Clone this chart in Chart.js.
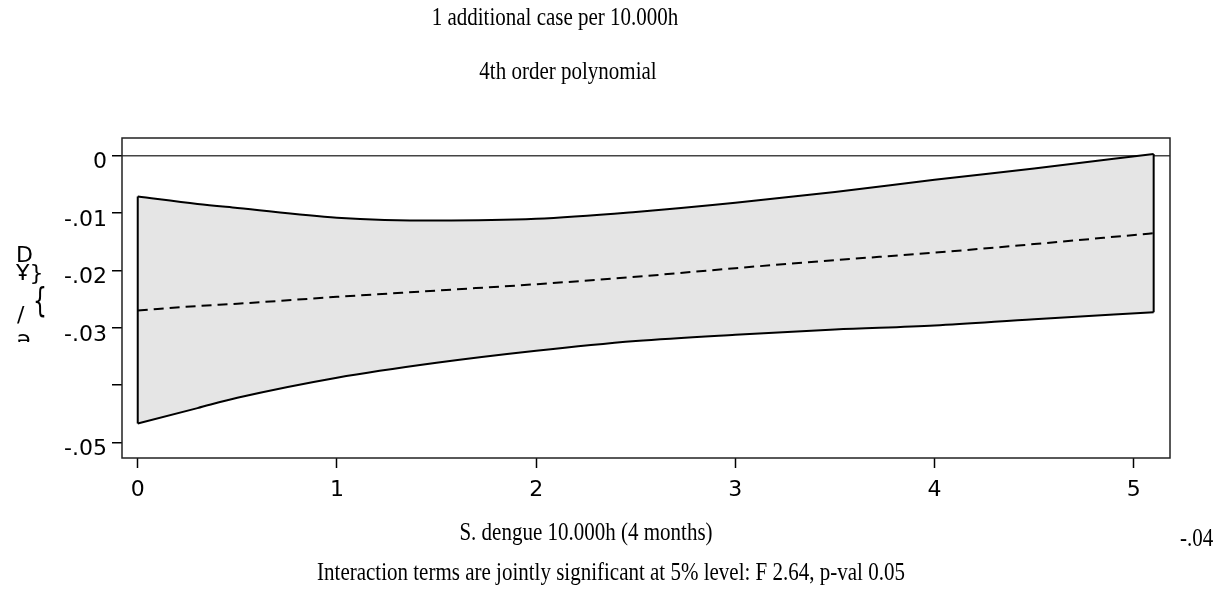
<!DOCTYPE html>
<html>
<head>
<meta charset="utf-8">
<script src="https://cdn.jsdelivr.net/npm/chart.js@4/dist/chart.umd.min.js"></script>
<style>
  html, body { margin: 0; padding: 0; background: #fff; }
  canvas { display: block; }
</style>
</head>
<body>
<canvas id="polyChart" width="1222" height="592"></canvas>
<script>
// Marginal effect of one additional dengue case, 4th order polynomial fit
const xValues   = [0, 0.3, 0.5, 1.0, 1.5, 2.0, 2.5, 3.0, 3.5, 4.0, 4.5, 5.1];
const upperCI   = [-0.0071, -0.0084, -0.0091, -0.0108, -0.0113, -0.0110, -0.0098, -0.0082, -0.0063, -0.0042, -0.0022, 0.0003];
const lowerCI   = [-0.0467, -0.0440, -0.0422, -0.0387, -0.0361, -0.0340, -0.0323, -0.0312, -0.0303, -0.0296, -0.0285, -0.0273];
const estimate  = [-0.0270, -0.0262, -0.0258, -0.0246, -0.0235, -0.0224, -0.0211, -0.0196, -0.0182, -0.0169, -0.0154, -0.0135];

const xTicks = [0, 1, 2, 3, 4, 5];
const yTicks = [0, -0.01, -0.02, -0.03, -0.04, -0.05];
const yTickLabels = ['0', '-.01', '-.02', '-.03', '', '-.05'];

const titleText    = '1 additional case per 10.000h';
const subtitleText = '4th order polynomial';
const xTitleText   = 'S. dengue 10.000h (4 months)';
const noteText     = 'Interaction terms are jointly significant at 5% level: F 2.64, p-val 0.05';
const strayLabel   = '-.04';
const yTitleGlyphs = ['D', 'Ұ}', '{', '/', 'ə'];

const toPoints = ys => xValues.map((x, i) => ({ x: x, y: ys[i] }));
const last = xValues.length - 1;
const leftEdge  = [{ x: xValues[0], y: upperCI[0] }, { x: xValues[0], y: lowerCI[0] }];
const rightEdge = [{ x: xValues[last], y: upperCI[last] }, { x: xValues[last], y: lowerCI[last] }];

const serif = '"Liberation Serif", "Times New Roman", serif';
const sans = '"DejaVu Sans", sans-serif';

// draws serif text slightly stretched vertically
function tallText(c, txt, x, y) {
  c.save();
  c.translate(x, y);
  c.scale(1, 1.22);
  c.fillText(txt, 0, 0);
  c.restore();
}

// frame around the plot region plus the free-floating texts
const decorPlugin = {
  id: 'decor',
  afterDraw(chart) {
    const c = chart.ctx;
    const a = chart.chartArea;
    c.save();
    c.strokeStyle = '#222';
    c.lineWidth = 1.5;
    c.strokeRect(a.left, a.top, a.right - a.left, a.bottom - a.top);

    c.fillStyle = '#000';
    c.textAlign = 'center';
    c.textBaseline = 'middle';
    c.font = '21px ' + serif;
    tallText(c, titleText, 555, 18);
    tallText(c, subtitleText, 568, 72);
    tallText(c, xTitleText, 586, 533);
    tallText(c, noteText, 611, 573);
    c.textAlign = 'left';
    tallText(c, strayLabel, 1180, 539);

    // y title, stacked glyphs
    c.font = '22px ' + sans;
    c.textBaseline = 'alphabetic';
    c.fillText(yTitleGlyphs[0], 16, 262);
    c.fillText(yTitleGlyphs[1], 16, 280);
    c.save();
    c.translate(33, 300);
    c.scale(1, 1.5);
    c.fillText(yTitleGlyphs[2], 0, 8);
    c.restore();
    c.fillText(yTitleGlyphs[3], 17, 322);
    c.beginPath();
    c.rect(0, 328, 60, 14);
    c.clip();
    c.fillText(yTitleGlyphs[4], 17, 346);
    c.restore();
  }
};

const lineBase = { showLine: true, pointRadius: 0, borderColor: '#000', borderWidth: 2 };

new Chart(document.getElementById('polyChart'), {
  type: 'scatter',
  data: {
    datasets: [
      Object.assign({}, lineBase, {
        data: toPoints(estimate), fill: false, borderDash: [10, 6],
        cubicInterpolationMode: 'monotone'
      }),
      Object.assign({}, lineBase, {
        data: toPoints(upperCI), fill: '+1', backgroundColor: '#e5e5e5',
        cubicInterpolationMode: 'monotone'
      }),
      Object.assign({}, lineBase, {
        data: toPoints(lowerCI), fill: false,
        cubicInterpolationMode: 'monotone'
      }),
      Object.assign({}, lineBase, { data: leftEdge, fill: false }),
      Object.assign({}, lineBase, { data: rightEdge, fill: false })
    ]
  },
  options: {
    responsive: false,
    animation: false,
    layout: { padding: { left: 0, right: 52, top: 138, bottom: 84 } },
    plugins: {
      legend: { display: false },
      tooltip: { enabled: false },
      title: { display: false },
      filler: { drawTime: 'beforeDatasetsDraw' }
    },
    scales: {
      x: {
        type: 'linear',
        min: -0.079,
        max: 5.182,
        afterBuildTicks: axis => { axis.ticks = xTicks.map(v => ({ value: v })); },
        afterFit: axis => { axis.height = 50; },
        border: { display: false },
        grid: { drawOnChartArea: false, drawTicks: true, tickLength: 10, tickColor: '#000', tickWidth: 1.5 },
        ticks: {
          color: '#000',
          padding: 9,
          maxRotation: 0,
          font: { family: sans, size: 22 },
          callback: v => String(v)
        }
      },
      y: {
        type: 'linear',
        min: -0.0527,
        max: 0.0031,
        afterBuildTicks: axis => { axis.ticks = yTicks.map(v => ({ value: v })); },
        afterFit: axis => { axis.width = 122; },
        border: { display: false },
        grid: {
          color: ctx => (ctx.tick && ctx.tick.value === 0 ? '#444' : 'rgba(0,0,0,0)'),
          lineWidth: 1.5,
          drawTicks: true,
          tickLength: 10,
          tickColor: '#000',
          tickWidth: 1.5
        },
        ticks: {
          color: '#000',
          padding: 5,
          labelOffset: 7,
          font: { family: sans, size: 22 },
          callback: v => yTickLabels[yTicks.indexOf(v)] ?? ''
        }
      }
    }
  },
  plugins: [decorPlugin]
});
</script>
</body>
</html>
